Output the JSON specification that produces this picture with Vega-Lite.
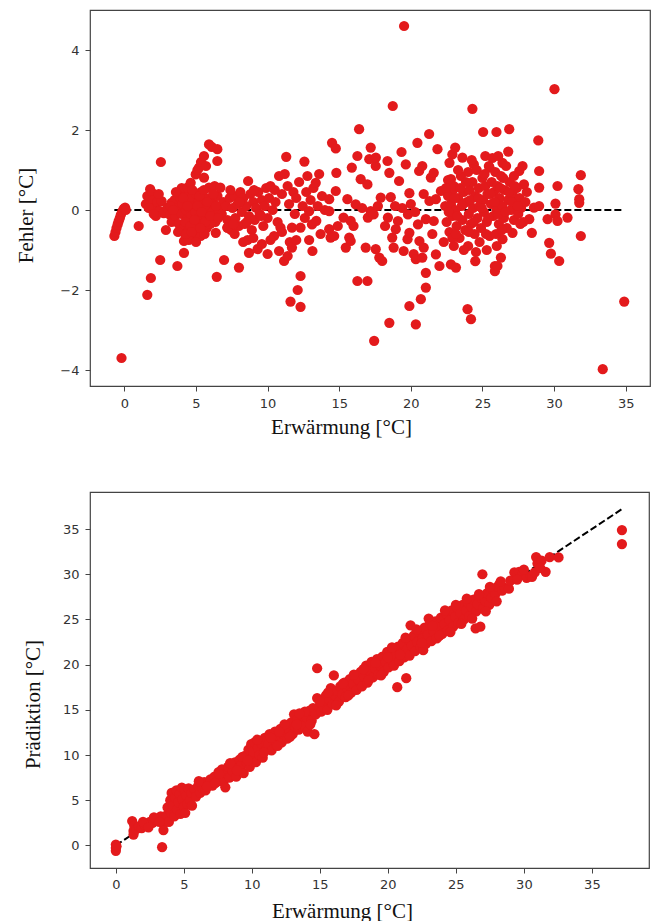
{
"$schema": "https://vega.github.io/schema/vega-lite/v6.json",
"background": "white",
"padding": {"left": 14, "top": 9, "right": 5, "bottom": 0},
"spacing": 53,
"config": {
 "view": {"stroke": "#444", "strokeWidth": 1.2},
 "axis": {"grid": false, "domain": false, "ticks": true, "tickSize": 5, "tickColor": "#444", "tickWidth": 1, "labelFont": "DejaVu Sans", "labelFontSize": 13, "labelColor": "#333", "labelPadding": 5, "labelFlush": false, "titleFont": "Liberation Serif", "titleFontSize": 21, "titleFontWeight": "normal", "titleColor": "#111"}
},
"datasets": {
 "topline": [{"erw": -0.7, "fehler": 0}, {"erw": 34.8, "fehler": 0}],
 "botline": [{"erw": 0, "pred": 0}, {"erw": 37.3, "pred": 37.3}],
 "top": [
{"erw":-0.7,"fehler":-0.65},{"erw":-0.62,"fehler":-0.55},{"erw":-0.55,"fehler":-0.45},{"erw":-0.47,"fehler":-0.36},{"erw":-0.4,"fehler":-0.28},{"erw":-0.32,"fehler":-0.2},{"erw":-0.25,"fehler":-0.12},{"erw":-0.15,"fehler":-0.04},{"erw":-0.05,"fehler":0.03},{"erw":0.05,"fehler":0.06},{"erw":0.1,"fehler":0.0},{"erw":-0.2,"fehler":-3.7},{"erw":1.0,"fehler":-0.4},
{"erw":1.5,"fehler":0.15},{"erw":1.6,"fehler":0.35},{"erw":1.8,"fehler":0.52},{"erw":1.95,"fehler":0.42},{"erw":2.0,"fehler":0.25},{"erw":2.1,"fehler":0.05},{"erw":2.3,"fehler":0.2},{"erw":2.45,"fehler":-0.02},{"erw":2.6,"fehler":0.22},{"erw":2.75,"fehler":-0.08},{"erw":2.9,"fehler":-0.5},{"erw":2.5,"fehler":-1.25},{"erw":1.85,"fehler":-1.7},{"erw":1.6,"fehler":-2.12},{"erw":2.55,"fehler":1.2},{"erw":2.2,"fehler":-0.15},{"erw":3.0,"fehler":0.05},{"erw":3.2,"fehler":-0.12},{"erw":3.3,"fehler":0.18},{"erw":1.7,"fehler":0.05},{"erw":2.4,"fehler":0.4},{"erw":2.05,"fehler":-0.1},
{"erw":3.3,"fehler":-0.3},{"erw":3.5,"fehler":0.25},{"erw":3.55,"fehler":-0.15},{"erw":3.7,"fehler":0.05},{"erw":3.8,"fehler":-0.35},{"erw":3.9,"fehler":0.3},{"erw":4.0,"fehler":-0.1},{"erw":4.05,"fehler":0.15},{"erw":4.15,"fehler":-0.45},{"erw":4.2,"fehler":0.4},{"erw":4.3,"fehler":0.0},{"erw":4.35,"fehler":-0.25},{"erw":4.45,"fehler":0.2},{"erw":4.5,"fehler":-0.5},{"erw":4.55,"fehler":0.05},{"erw":4.65,"fehler":-0.15},{"erw":4.7,"fehler":0.3},{"erw":4.8,"fehler":-0.35},{"erw":4.85,"fehler":0.1},{"erw":4.95,"fehler":-0.05},{"erw":5.0,"fehler":0.4},{"erw":5.05,"fehler":-0.55},{"erw":5.15,"fehler":0.2},{"erw":5.2,"fehler":-0.2},{"erw":5.3,"fehler":0.05},{"erw":5.35,"fehler":0.45},{"erw":5.45,"fehler":-0.35},{"erw":5.5,"fehler":0.15},{"erw":5.6,"fehler":-0.1},{"erw":5.7,"fehler":0.3},{"erw":5.75,"fehler":-0.45},{"erw":5.85,"fehler":0.05},{"erw":5.95,"fehler":-0.2},{"erw":6.05,"fehler":0.25},{"erw":6.15,"fehler":-0.05},{"erw":6.25,"fehler":0.15},{"erw":6.35,"fehler":-0.3},{"erw":6.5,"fehler":0.35},{"erw":6.6,"fehler":0.0},{"erw":6.8,"fehler":-0.1},{"erw":6.9,"fehler":0.2},{"erw":4.0,"fehler":0.55},{"erw":4.4,"fehler":0.56},{"erw":4.63,"fehler":0.68},{"erw":4.98,"fehler":0.89},{"erw":5.1,"fehler":1.0},{"erw":5.21,"fehler":1.06},{"erw":5.35,"fehler":1.2},{"erw":5.56,"fehler":1.35},{"erw":5.56,"fehler":0.81},{"erw":5.7,"fehler":1.1},{"erw":5.91,"fehler":1.64},{"erw":5.91,"fehler":0.56},{"erw":6.1,"fehler":1.58},{"erw":6.49,"fehler":1.52},{"erw":6.49,"fehler":1.225},{"erw":6.3,"fehler":0.6},{"erw":6.7,"fehler":0.56},{"erw":4.16,"fehler":-0.775},{"erw":4.16,"fehler":-1.07},{"erw":3.7,"fehler":-1.4},{"erw":4.86,"fehler":-0.65},{"erw":5.33,"fehler":-0.65},{"erw":4.5,"fehler":-0.75},{"erw":5.0,"fehler":-0.8},{"erw":6.38,"fehler":-0.57},{"erw":7.19,"fehler":-0.44},{"erw":6.96,"fehler":-1.25},{"erw":6.45,"fehler":-1.67},{"erw":3.2,"fehler":0.1},{"erw":4.25,"fehler":-0.6},{"erw":5.6,"fehler":-0.6},{"erw":6.0,"fehler":-0.35},
{"erw":3.6,"fehler":0.45},{"erw":3.75,"fehler":-0.55},{"erw":4.1,"fehler":0.3},{"erw":4.25,"fehler":-0.3},{"erw":4.4,"fehler":0.1},{"erw":4.6,"fehler":-0.4},{"erw":4.75,"fehler":0.5},{"erw":4.9,"fehler":-0.25},{"erw":5.1,"fehler":0.1},{"erw":5.25,"fehler":0.35},{"erw":5.4,"fehler":-0.05},{"erw":5.55,"fehler":0.5},{"erw":5.65,"fehler":-0.3},{"erw":5.8,"fehler":0.2},{"erw":6.0,"fehler":-0.15},{"erw":6.2,"fehler":0.4},{"erw":6.4,"fehler":0.1},{"erw":6.55,"fehler":-0.2},{"erw":4.3,"fehler":-0.6},{"erw":4.7,"fehler":-0.55},{"erw":5.3,"fehler":-0.45},{"erw":3.4,"fehler":0.0},
{"erw":7.1,"fehler":0.1},{"erw":7.2,"fehler":-0.25},{"erw":7.35,"fehler":0.3},{"erw":7.45,"fehler":-0.5},{"erw":7.55,"fehler":0.05},{"erw":7.7,"fehler":0.35},{"erw":7.75,"fehler":-0.2},{"erw":7.9,"fehler":0.15},{"erw":8.0,"fehler":-0.4},{"erw":8.1,"fehler":0.45},{"erw":8.2,"fehler":-0.05},{"erw":8.3,"fehler":0.3},{"erw":8.4,"fehler":-0.35},{"erw":8.5,"fehler":0.1},{"erw":8.64,"fehler":0.725},{"erw":8.7,"fehler":-0.15},{"erw":8.8,"fehler":0.4},{"erw":8.9,"fehler":-0.5},{"erw":9.0,"fehler":0.2},{"erw":9.1,"fehler":-0.25},{"erw":9.2,"fehler":0.05},{"erw":9.35,"fehler":0.45},{"erw":9.45,"fehler":-0.1},{"erw":9.6,"fehler":0.25},{"erw":9.7,"fehler":-0.4},{"erw":9.8,"fehler":0.1},{"erw":9.9,"fehler":0.55},{"erw":10.0,"fehler":-0.2},{"erw":10.1,"fehler":0.3},{"erw":10.2,"fehler":0.6},{"erw":10.35,"fehler":0.0},{"erw":10.45,"fehler":-0.65},{"erw":10.55,"fehler":0.2},{"erw":10.7,"fehler":-0.3},{"erw":10.8,"fehler":0.85},{"erw":10.9,"fehler":-0.44},{"erw":11.0,"fehler":0.4},{"erw":8.0,"fehler":-1.44},{"erw":8.7,"fehler":-1.07},{"erw":9.3,"fehler":-0.98},{"erw":10.0,"fehler":-1.1},{"erw":10.8,"fehler":-1.025},{"erw":8.6,"fehler":-0.75},{"erw":9.0,"fehler":-0.7},{"erw":9.6,"fehler":-0.85},{"erw":7.7,"fehler":-0.6},{"erw":8.3,"fehler":-0.8},{"erw":10.2,"fehler":-0.75},{"erw":7.2,"fehler":-0.44},{"erw":7.4,"fehler":0.5},{"erw":7.6,"fehler":-0.35},{"erw":8.05,"fehler":0.2},{"erw":8.55,"fehler":-0.3},{"erw":9.05,"fehler":0.5},{"erw":9.55,"fehler":-0.15},{"erw":10.5,"fehler":0.5},
{"erw":11.15,"fehler":-1.275},{"erw":11.2,"fehler":0.9},{"erw":11.3,"fehler":1.33},{"erw":11.4,"fehler":0.6},{"erw":11.5,"fehler":0.15},{"erw":11.55,"fehler":-0.8},{"erw":11.7,"fehler":-0.44},{"erw":11.7,"fehler":-0.94},{"erw":11.6,"fehler":-2.29},{"erw":11.8,"fehler":0.45},{"erw":11.9,"fehler":-0.1},{"erw":12.0,"fehler":0.3},{"erw":12.1,"fehler":-2.0},{"erw":12.2,"fehler":0.7},{"erw":12.3,"fehler":-0.44},{"erw":12.3,"fehler":-1.65},{"erw":12.3,"fehler":-2.42},{"erw":12.45,"fehler":0.1},{"erw":12.57,"fehler":1.21},{"erw":12.6,"fehler":-0.2},{"erw":12.7,"fehler":0.45},{"erw":12.78,"fehler":0.85},{"erw":12.9,"fehler":-0.03},{"erw":13.0,"fehler":0.25},{"erw":13.1,"fehler":-0.36},{"erw":13.13,"fehler":-1.025},{"erw":13.2,"fehler":0.55},{"erw":13.36,"fehler":0.68},{"erw":13.4,"fehler":-0.27},{"erw":13.5,"fehler":0.1},{"erw":13.7,"fehler":-0.6},{"erw":13.8,"fehler":0.35},{"erw":14.0,"fehler":0.0},{"erw":14.3,"fehler":0.27},{"erw":14.3,"fehler":-0.03},{"erw":14.3,"fehler":-0.48},{"erw":14.4,"fehler":-0.69},{"erw":14.5,"fehler":1.68},{"erw":14.65,"fehler":-0.65},{"erw":14.76,"fehler":1.54},{"erw":14.76,"fehler":0.475},{"erw":14.8,"fehler":0.93},{"erw":14.9,"fehler":-0.4},{"erw":11.0,"fehler":-0.55},{"erw":12.0,"fehler":-0.75},{"erw":11.4,"fehler":-1.15},{"erw":13.6,"fehler":0.9},{"erw":12.9,"fehler":-0.75},
{"erw":15.3,"fehler":-0.19},{"erw":15.46,"fehler":-0.94},{"erw":15.57,"fehler":0.27},{"erw":15.7,"fehler":-0.69},{"erw":15.8,"fehler":-0.27},{"erw":15.8,"fehler":-0.775},{"erw":15.88,"fehler":1.06},{"erw":16.15,"fehler":0.14},{"erw":16.27,"fehler":1.35},{"erw":16.27,"fehler":-1.775},{"erw":16.39,"fehler":2.02},{"erw":16.5,"fehler":0.77},{"erw":16.85,"fehler":-0.94},{"erw":16.97,"fehler":0.64},{"erw":16.97,"fehler":-1.775},{"erw":17.0,"fehler":-0.19},{"erw":17.1,"fehler":1.27},{"erw":17.2,"fehler":1.56},{"erw":17.2,"fehler":-0.03},{"erw":17.4,"fehler":-0.11},{"erw":17.44,"fehler":-3.27},{"erw":17.55,"fehler":1.1},{"erw":17.55,"fehler":-0.98},{"erw":17.56,"fehler":1.31},{"erw":17.8,"fehler":-1.19},{"erw":17.9,"fehler":0.31},{"erw":18.0,"fehler":-1.275},{"erw":18.37,"fehler":1.225},{"erw":18.4,"fehler":-0.19},{"erw":18.5,"fehler":0.93},{"erw":18.5,"fehler":-2.82},{"erw":18.6,"fehler":0.32},{"erw":18.7,"fehler":-0.69},{"erw":18.74,"fehler":2.6},{"erw":18.8,"fehler":-0.94},{"erw":18.95,"fehler":-0.48},{"erw":19.1,"fehler":-0.275},{"erw":19.18,"fehler":0.725},{"erw":19.35,"fehler":1.45},{"erw":19.5,"fehler":-1.025},{"erw":19.53,"fehler":4.6},{"erw":19.65,"fehler":1.14},{"erw":19.77,"fehler":-0.73},{"erw":19.8,"fehler":-0.11},{"erw":19.9,"fehler":0.42},{"erw":19.9,"fehler":-0.57},{"erw":19.9,"fehler":-2.4},{"erw":20.2,"fehler":-1.1},{"erw":20.35,"fehler":-1.23},{"erw":20.35,"fehler":-2.86},{"erw":20.46,"fehler":1.68},{"erw":20.5,"fehler":-0.36},{"erw":20.58,"fehler":0.975},{"erw":20.6,"fehler":-0.775},{"erw":20.7,"fehler":-2.23},{"erw":20.8,"fehler":1.1},{"erw":20.8,"fehler":-1.19},{"erw":20.9,"fehler":-0.94},{"erw":21.05,"fehler":-0.23},{"erw":21.05,"fehler":-1.57},{"erw":21.05,"fehler":-1.94},{"erw":21.28,"fehler":1.9},{"erw":21.3,"fehler":0.225},{"erw":21.4,"fehler":0.81},{"erw":21.6,"fehler":0.93},{"erw":21.6,"fehler":-0.275},{"erw":21.75,"fehler":0.27},{"erw":21.75,"fehler":-1.11},{"erw":21.86,"fehler":1.52},{"erw":22.0,"fehler":-1.4},{"erw":16.6,"fehler":0.05},{"erw":17.7,"fehler":0.1},{"erw":18.2,"fehler":-0.4},{"erw":19.4,"fehler":0.05},{"erw":20.0,"fehler":0.15},{"erw":20.9,"fehler":0.4},{"erw":21.5,"fehler":-0.6},{"erw":16.0,"fehler":-0.4},{"erw":18.9,"fehler":0.1},{"erw":20.3,"fehler":-0.05},
{"erw":22.1,"fehler":0.475},{"erw":22.7,"fehler":1.18},{"erw":22.8,"fehler":0.77},{"erw":22.8,"fehler":-1.36},{"erw":22.9,"fehler":1.39},{"erw":22.9,"fehler":0.475},{"erw":23.1,"fehler":1.56},{"erw":23.15,"fehler":-1.44},{"erw":23.6,"fehler":1.31},{"erw":23.96,"fehler":-2.48},{"erw":24.2,"fehler":-2.73},{"erw":24.3,"fehler":2.53},{"erw":24.4,"fehler":1.14},{"erw":24.5,"fehler":-1.28},{"erw":25.05,"fehler":1.95},{"erw":25.2,"fehler":1.35},{"erw":25.5,"fehler":1.06},{"erw":25.87,"fehler":-1.4},{"erw":25.87,"fehler":-1.53},{"erw":25.98,"fehler":1.95},{"erw":26.05,"fehler":-1.4},{"erw":26.29,"fehler":-1.19},{"erw":26.4,"fehler":1.18},{"erw":26.4,"fehler":-0.73},{"erw":26.87,"fehler":2.02},{"erw":26.8,"fehler":1.46},{"erw":27.1,"fehler":-0.57},{"erw":27.57,"fehler":0.975},{"erw":27.8,"fehler":1.1},{"erw":27.9,"fehler":0.64},{"erw":28.27,"fehler":-0.23},{"erw":28.45,"fehler":-0.57},{"erw":28.6,"fehler":0.06},{"erw":22.3,"fehler":-0.8},{"erw":23.0,"fehler":-0.9},
{"erw":22.4,"fehler":0.1},{"erw":22.5,"fehler":-0.3},{"erw":22.6,"fehler":0.35},{"erw":22.7,"fehler":-0.55},{"erw":22.8,"fehler":0.15},{"erw":22.9,"fehler":-0.15},{"erw":23.0,"fehler":0.6},{"erw":23.1,"fehler":0.0},{"erw":23.2,"fehler":-0.4},{"erw":23.3,"fehler":0.3},{"erw":23.4,"fehler":-0.7},{"erw":23.5,"fehler":0.85},{"erw":23.55,"fehler":0.1},{"erw":23.6,"fehler":-0.25},{"erw":23.7,"fehler":0.45},{"erw":23.8,"fehler":-0.5},{"erw":23.9,"fehler":0.2},{"erw":24.0,"fehler":0.95},{"erw":24.05,"fehler":-0.1},{"erw":24.1,"fehler":0.5},{"erw":24.2,"fehler":-0.35},{"erw":24.3,"fehler":0.7},{"erw":24.35,"fehler":0.05},{"erw":24.45,"fehler":-0.6},{"erw":24.5,"fehler":0.35},{"erw":24.6,"fehler":1.0},{"erw":24.65,"fehler":-0.2},{"erw":24.75,"fehler":0.55},{"erw":24.8,"fehler":0.1},{"erw":24.9,"fehler":-0.45},{"erw":25.0,"fehler":0.8},{"erw":25.05,"fehler":0.25},{"erw":25.1,"fehler":-0.05},{"erw":25.2,"fehler":0.6},{"erw":25.3,"fehler":-0.3},{"erw":25.35,"fehler":0.4},{"erw":25.45,"fehler":1.1},{"erw":25.5,"fehler":-0.65},{"erw":25.6,"fehler":0.15},{"erw":25.65,"fehler":0.7},{"erw":25.75,"fehler":-0.15},{"erw":25.8,"fehler":0.45},{"erw":25.9,"fehler":0.95},{"erw":26.0,"fehler":0.0},{"erw":26.05,"fehler":0.6},{"erw":26.15,"fehler":-0.35},{"erw":26.2,"fehler":0.3},{"erw":26.3,"fehler":0.85},{"erw":26.4,"fehler":0.1},{"erw":26.5,"fehler":-0.2},{"erw":26.55,"fehler":0.5},{"erw":26.65,"fehler":1.1},{"erw":26.7,"fehler":-0.45},{"erw":26.8,"fehler":0.25},{"erw":26.9,"fehler":0.7},{"erw":27.0,"fehler":0.0},{"erw":27.1,"fehler":0.4},{"erw":27.2,"fehler":-0.25},{"erw":27.3,"fehler":0.2},{"erw":27.4,"fehler":0.55},{"erw":27.5,"fehler":-0.1},{"erw":27.6,"fehler":0.3},{"erw":27.7,"fehler":0.05},{"erw":27.85,"fehler":-0.3},{"erw":28.0,"fehler":0.2},{"erw":28.1,"fehler":0.45},{"erw":24.0,"fehler":-0.9},{"erw":24.8,"fehler":-0.8},{"erw":25.3,"fehler":-1.0},{"erw":23.7,"fehler":-1.0},{"erw":26.0,"fehler":-0.9},{"erw":22.6,"fehler":0.75},{"erw":23.3,"fehler":1.0},{"erw":25.7,"fehler":1.3},{"erw":24.25,"fehler":1.25},{"erw":26.1,"fehler":1.35},{"erw":27.2,"fehler":0.85},{"erw":22.9,"fehler":-0.7},{"erw":24.55,"fehler":-1.05},{"erw":25.95,"fehler":-0.6},
{"erw":22.45,"fehler":0.55},{"erw":22.65,"fehler":-0.05},{"erw":23.05,"fehler":0.3},{"erw":23.25,"fehler":-0.15},{"erw":23.45,"fehler":0.55},{"erw":23.65,"fehler":0.15},{"erw":23.85,"fehler":0.7},{"erw":24.15,"fehler":0.25},{"erw":24.4,"fehler":-0.3},{"erw":24.7,"fehler":0.3},{"erw":24.95,"fehler":0.05},{"erw":25.15,"fehler":0.9},{"erw":25.4,"fehler":-0.2},{"erw":25.55,"fehler":0.4},{"erw":25.85,"fehler":0.2},{"erw":26.1,"fehler":-0.1},{"erw":26.25,"fehler":0.55},{"erw":26.45,"fehler":0.8},{"erw":26.6,"fehler":-0.05},{"erw":26.85,"fehler":0.45},{"erw":27.05,"fehler":0.2},{"erw":27.25,"fehler":0.6},{"erw":27.45,"fehler":0.1},{"erw":27.65,"fehler":-0.35},{"erw":24.05,"fehler":-0.55},{"erw":25.25,"fehler":-0.6},{"erw":26.35,"fehler":-0.5},{"erw":23.15,"fehler":-0.6},
{"erw":28.9,"fehler":1.74},{"erw":28.96,"fehler":0.975},{"erw":28.96,"fehler":0.56},{"erw":28.96,"fehler":0.1},{"erw":29.55,"fehler":-0.23},{"erw":29.66,"fehler":-0.82},{"erw":29.78,"fehler":-1.09},{"erw":30.03,"fehler":3.02},{"erw":30.1,"fehler":0.16},{"erw":30.1,"fehler":-0.11},{"erw":30.24,"fehler":0.6},{"erw":30.24,"fehler":-0.275},{"erw":30.36,"fehler":-1.275},{"erw":30.94,"fehler":-0.19},{"erw":31.7,"fehler":0.52},{"erw":31.76,"fehler":0.27},{"erw":31.76,"fehler":0.18},{"erw":31.87,"fehler":0.87},{"erw":31.87,"fehler":-0.65},{"erw":33.4,"fehler":-3.98},{"erw":34.9,"fehler":-2.29}
 ],
 "bot": [
{"erw":0,"pred":0.1},{"erw":0,"pred":-0.3},{"erw":0,"pred":-0.6},{"erw":0.05,"pred":-0.1},{"erw":1.2,"pred":2.7},{"erw":1.3,"pred":1.6},{"erw":1.35,"pred":2.2},{"erw":1.3,"pred":1.2},{"erw":1.5,"pred":1.8},{"erw":1.7,"pred":2.1},{"erw":1.9,"pred":1.9},{"erw":2.1,"pred":2.3},{"erw":2.3,"pred":2.2},{"erw":2.5,"pred":2.6},{"erw":2.7,"pred":2.5},{"erw":2.9,"pred":2.9},{"erw":3.1,"pred":2.8},{"erw":3.3,"pred":3.2},{"erw":3.5,"pred":2.4},{"erw":3.5,"pred":1.7},{"erw":3.4,"pred":-0.2},
{"erw":3.7,"pred":3.3},{"erw":3.8,"pred":4.2},{"erw":3.9,"pred":2.6},{"erw":4.0,"pred":5.0},{"erw":4.05,"pred":3.6},{"erw":4.1,"pred":5.8},{"erw":4.2,"pred":4.4},{"erw":4.3,"pred":3.2},{"erw":4.35,"pred":5.3},{"erw":4.45,"pred":6.1},{"erw":4.5,"pred":4.0},{"erw":4.6,"pred":4.8},{"erw":4.7,"pred":5.7},{"erw":4.75,"pred":3.5},{"erw":4.85,"pred":6.4},{"erw":4.9,"pred":5.1},{"erw":5.0,"pred":4.3},{"erw":5.05,"pred":6.2},{"erw":5.1,"pred":3.6},{"erw":5.2,"pred":5.5},{"erw":5.25,"pred":4.6},{"erw":5.35,"pred":6.3},{"erw":5.45,"pred":5.0},{"erw":5.55,"pred":5.8},{"erw":5.6,"pred":4.4},
{"erw":5.8,"pred":6.2},{"erw":5.9,"pred":5.4},{"erw":6.05,"pred":6.6},{"erw":6.2,"pred":5.8},{"erw":6.35,"pred":6.4},{"erw":6.5,"pred":7.0},{"erw":6.6,"pred":6.1},{"erw":6.8,"pred":6.8},{"erw":6.95,"pred":7.3},{"erw":7.1,"pred":6.6},{"erw":7.25,"pred":7.6},{"erw":7.4,"pred":7.0},{"erw":7.55,"pred":8.1},{"erw":7.7,"pred":7.4},{"erw":7.8,"pred":8.4},{"erw":7.9,"pred":7.0},{"erw":8.05,"pred":6.43},{"erw":8.1,"pred":8.0},{"erw":8.25,"pred":8.7},{"erw":8.35,"pred":7.5},
{"erw":8.5,"pred":8.9},{"erw":8.6,"pred":8.2},{"erw":8.75,"pred":9.2},{"erw":8.85,"pred":7.6},{"erw":9.0,"pred":8.6},{"erw":9.1,"pred":9.5},{"erw":9.25,"pred":8.9},{"erw":9.4,"pred":8.0},{"erw":9.5,"pred":9.9},{"erw":9.6,"pred":9.2},{"erw":9.75,"pred":10.6},{"erw":9.85,"pred":8.7},{"erw":9.95,"pred":11.2},{"erw":10.0,"pred":9.6},{"erw":10.1,"pred":10.4},{"erw":10.2,"pred":11.4},{"erw":10.3,"pred":9.2},{"erw":10.45,"pred":10.8},{"erw":10.55,"pred":10.0},{"erw":10.7,"pred":11.3},{"erw":10.8,"pred":9.7},{"erw":10.95,"pred":11.9},{"erw":11.05,"pred":10.6},{"erw":11.2,"pred":11.2},{"erw":11.3,"pred":12.3},{"erw":11.45,"pred":10.5},{"erw":11.55,"pred":11.7},{"erw":11.7,"pred":12.6},{"erw":11.8,"pred":11.1},{"erw":11.95,"pred":12.1},
{"erw":12.1,"pred":12.9},{"erw":12.2,"pred":11.4},{"erw":12.35,"pred":12.3},{"erw":12.5,"pred":13.2},{"erw":12.6,"pred":11.8},{"erw":12.75,"pred":12.7},{"erw":12.9,"pred":13.6},{"erw":13.0,"pred":12.3},{"erw":13.1,"pred":14.5},{"erw":13.2,"pred":13.1},{"erw":13.35,"pred":14.0},{"erw":13.45,"pred":12.8},{"erw":13.6,"pred":13.6},{"erw":13.7,"pred":14.4},{"erw":13.85,"pred":13.2},{"erw":14.0,"pred":14.2},{"erw":14.1,"pred":12.6},{"erw":14.25,"pred":14.9},{"erw":14.4,"pred":13.8},{"erw":14.5,"pred":15.2},{"erw":14.6,"pred":12.3},{"erw":14.7,"pred":14.5},{"erw":14.8,"pred":16.3},{"erw":14.8,"pred":19.6},{"erw":14.95,"pred":15.3},
{"erw":15.1,"pred":14.8},{"erw":15.2,"pred":16.0},{"erw":15.3,"pred":15.3},{"erw":15.45,"pred":16.6},{"erw":15.55,"pred":15.0},{"erw":15.7,"pred":16.1},{"erw":15.8,"pred":17.4},{"erw":15.95,"pred":15.6},{"erw":16.03,"pred":18.8},{"erw":16.1,"pred":16.6},{"erw":16.25,"pred":17.1},{"erw":16.4,"pred":15.9},{"erw":16.5,"pred":17.6},{"erw":16.65,"pred":16.7},{"erw":16.8,"pred":18.0},{"erw":16.9,"pred":16.4},{"erw":17.05,"pred":17.3},{"erw":17.2,"pred":18.4},{"erw":17.3,"pred":16.9},{"erw":17.45,"pred":17.9},{"erw":17.6,"pred":18.7},{"erw":17.7,"pred":17.2},{"erw":17.85,"pred":18.3},{"erw":18.0,"pred":19.2},{"erw":18.1,"pred":17.6},{"erw":18.25,"pred":18.7},{"erw":18.4,"pred":19.9},{"erw":18.5,"pred":18.0},{"erw":18.65,"pred":19.3},{"erw":18.8,"pred":20.3},{"erw":18.9,"pred":18.6},{"erw":19.05,"pred":19.6},{"erw":19.2,"pred":20.6},{"erw":19.3,"pred":18.9},{"erw":19.45,"pred":19.9},{"erw":19.6,"pred":20.9},{"erw":19.7,"pred":19.2},{"erw":19.85,"pred":20.3},{"erw":19.95,"pred":21.4},{"erw":20.05,"pred":19.7},
{"erw":20.2,"pred":20.6},{"erw":20.35,"pred":21.5},{"erw":20.45,"pred":19.9},{"erw":20.6,"pred":21.0},{"erw":20.69,"pred":17.5},{"erw":20.75,"pred":22.0},{"erw":20.85,"pred":20.4},{"erw":21.0,"pred":21.3},{"erw":21.1,"pred":22.4},{"erw":21.2,"pred":20.8},{"erw":21.35,"pred":18.5},{"erw":21.4,"pred":21.7},{"erw":21.5,"pred":22.8},{"erw":21.6,"pred":21.0},{"erw":21.67,"pred":24.35},{"erw":21.75,"pred":22.1},{"erw":21.9,"pred":23.2},{"erw":22.0,"pred":21.5},{"erw":22.15,"pred":22.5},{"erw":22.3,"pred":23.6},{"erw":22.4,"pred":21.9},{"erw":22.55,"pred":22.9},{"erw":22.7,"pred":24.1},{"erw":22.8,"pred":22.3},{"erw":22.95,"pred":23.3},{"erw":23.0,"pred":25.1},{"erw":23.1,"pred":24.5},{"erw":23.2,"pred":22.6},{"erw":23.35,"pred":23.7},{"erw":23.5,"pred":24.8},{"erw":23.6,"pred":22.9},{"erw":23.75,"pred":24.1},{"erw":23.9,"pred":25.2},{"erw":24.0,"pred":23.4},{"erw":24.15,"pred":24.5},{"erw":24.3,"pred":25.6},{"erw":24.4,"pred":23.8},{"erw":24.55,"pred":24.9},{"erw":24.7,"pred":26.0},{"erw":24.8,"pred":24.2},{"erw":24.95,"pred":25.3},{"erw":25.1,"pred":26.3},{"erw":25.2,"pred":24.6},
{"erw":25.35,"pred":25.7},{"erw":25.5,"pred":26.6},{"erw":25.6,"pred":25.0},{"erw":25.75,"pred":26.0},{"erw":25.9,"pred":26.9},{"erw":26.0,"pred":25.4},{"erw":26.15,"pred":26.4},{"erw":26.3,"pred":27.2},{"erw":26.45,"pred":24.0},{"erw":26.5,"pred":25.9},{"erw":26.6,"pred":26.7},{"erw":26.8,"pred":24.2},{"erw":26.85,"pred":27.4},{"erw":26.95,"pred":30.0},{"erw":27.0,"pred":26.2},{"erw":27.15,"pred":27.1},{"erw":27.3,"pred":27.9},{"erw":27.45,"pred":26.6},{"erw":27.6,"pred":27.4},{"erw":27.75,"pred":28.3},{"erw":27.9,"pred":27.8},{"erw":28.05,"pred":28.6},{"erw":28.2,"pred":28.9},{"erw":28.4,"pred":28.2},{"erw":28.6,"pred":28.5},{"erw":28.9,"pred":28.4},
{"erw":29.3,"pred":30.2},{"erw":29.65,"pred":30.27},{"erw":29.9,"pred":30.0},{"erw":30.2,"pred":29.6},{"erw":30.5,"pred":29.8},{"erw":30.6,"pred":29.72},{"erw":30.9,"pred":31.9},{"erw":31.0,"pred":31.2},{"erw":31.3,"pred":31.5},{"erw":31.6,"pred":30.27},{"erw":31.9,"pred":31.9},{"erw":32.55,"pred":31.86},{"erw":37.21,"pred":34.89},{"erw":37.21,"pred":33.34},
{"erw":2.0,"pred":2.6},{"erw":2.4,"pred":2.0},{"erw":2.8,"pred":3.1},{"erw":3.2,"pred":2.6},{"erw":6.1,"pred":7.1},{"erw":6.7,"pred":6.5},{"erw":7.3,"pred":6.9},{"erw":7.6,"pred":7.9},{"erw":8.4,"pred":9.1},{"erw":8.9,"pred":8.3},{"erw":9.3,"pred":9.8},{"erw":9.7,"pred":9.4},{"erw":10.4,"pred":11.7},{"erw":10.9,"pred":10.3},{"erw":11.4,"pred":11.9},{"erw":11.9,"pred":11.0},{"erw":12.4,"pred":13.4},{"erw":12.8,"pred":12.0},{"erw":13.3,"pred":13.4},{"erw":13.9,"pred":14.8},{"erw":14.3,"pred":13.4},{"erw":15.0,"pred":15.9},{"erw":15.6,"pred":16.9},{"erw":16.2,"pred":15.5},{"erw":16.7,"pred":17.9},{"erw":17.1,"pred":16.6},{"erw":17.5,"pred":18.9},{"erw":18.2,"pred":19.5},{"erw":18.6,"pred":18.3},{"erw":19.1,"pred":20.2},{"erw":19.5,"pred":18.8},{"erw":20.3,"pred":21.9},{"erw":20.9,"pred":21.1},{"erw":21.3,"pred":23.0},{"erw":22.1,"pred":23.9},{"erw":22.6,"pred":21.6},{"erw":23.3,"pred":24.3},{"erw":23.8,"pred":23.2},{"erw":24.2,"pred":26.0},{"erw":24.6,"pred":23.6},{"erw":25.0,"pred":26.6},{"erw":25.4,"pred":24.5},{"erw":25.8,"pred":27.3},{"erw":26.2,"pred":25.1},{"erw":26.7,"pred":27.8},{"erw":27.2,"pred":25.9},{"erw":27.5,"pred":28.6},{"erw":28.0,"pred":27.0},{"erw":28.3,"pred":29.2},{"erw":29.0,"pred":29.3},{"erw":29.5,"pred":29.4},{"erw":30.0,"pred":30.5},{"erw":30.8,"pred":30.2},{"erw":31.2,"pred":30.7},{"erw":12.0,"pred":12.6},{"erw":13.5,"pred":14.6},{"erw":20.0,"pred":20.8},{"erw":22.5,"pred":22.4}
 ]
},
"vconcat": [
 {
  "width": 560, "height": 376,
  "encoding": {
   "x": {"field": "erw", "type": "quantitative", "scale": {"domain": [-2.4, 36.7], "nice": false, "zero": false},
         "axis": {"title": "Erwärmung [°C]", "values": [0,5,10,15,20,25,30,35], "titleX": 251, "titleY": 47, "titleBaseline": "alphabetic", "labelPadding": 6}},
   "y": {"field": "fehler", "type": "quantitative", "scale": {"domain": [-4.4, 5.0], "nice": false, "zero": false},
         "axis": {"title": "Fehler [°C]", "values": [-4,-2,0,2,4], "titleX": -64, "titleY": 205, "titleBaseline": "middle", "labelPadding": 6}}
  },
  "layer": [
   {"data": {"name": "topline"}, "mark": {"type": "line", "color": "black", "strokeWidth": 2, "strokeDash": [7, 3]}},
   {"data": {"name": "top"}, "mark": {"type": "circle", "size": 105, "color": "#e31a1c", "opacity": 1}}
  ]
 },
 {
  "width": 559, "height": 376,
  "encoding": {
   "x": {"field": "erw", "type": "quantitative", "scale": {"domain": [-1.9, 39.2], "nice": false, "zero": false},
         "axis": {"title": "Erwärmung [°C]", "values": [0,5,10,15,20,25,30,35], "titleX": 252, "titleY": 49, "titleBaseline": "alphabetic"}},
   "y": {"field": "pred", "type": "quantitative", "scale": {"domain": [-2.5, 39.1], "nice": false, "zero": false},
         "axis": {"title": "Prädiktion [°C]", "values": [0,5,10,15,20,25,30,35], "titleX": -57, "titleY": 212, "titleBaseline": "middle", "labelPadding": 6}}
  },
  "layer": [
   {"data": {"name": "botline"}, "mark": {"type": "line", "color": "black", "strokeWidth": 2, "strokeDash": [7, 3]}},
   {"data": {"name": "bot"}, "mark": {"type": "circle", "size": 105, "color": "#e31a1c", "opacity": 1}}
  ]
 }
]
}
